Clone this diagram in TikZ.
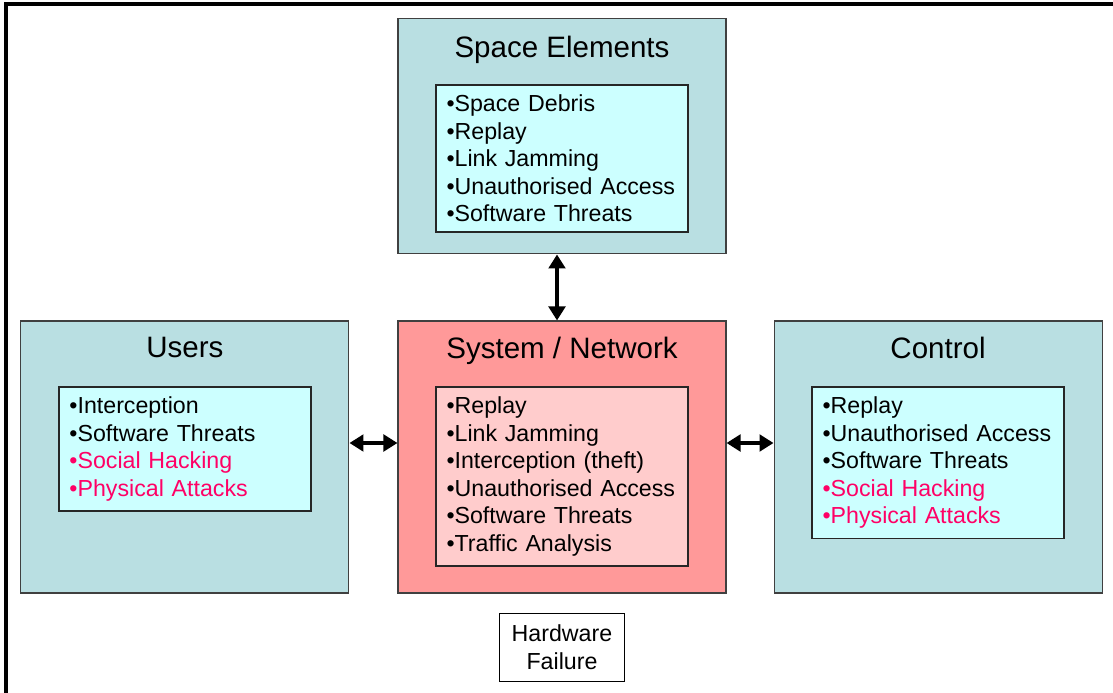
\documentclass[tikz,border=0pt]{standalone}
\usepackage{fontspec}
\setmainfont{Liberation Sans}
\usetikzlibrary{positioning}
\usetikzlibrary{arrows.meta}

\definecolor{boxteal}{RGB}{185,223,226}
\definecolor{listcyan}{RGB}{204,255,255}
\definecolor{netred}{RGB}{255,153,153}
\definecolor{netpink}{RGB}{255,204,204}
\definecolor{hackpink}{RGB}{255,0,102}

\begin{document}
\begin{tikzpicture}[
                          outerbox/.style={rectangle, draw=black!75, line width=0.6pt, fill=boxteal, minimum width=6.56cm, minimum height=5.44cm},
                          redbox/.style={outerbox, fill=netred},
                          titletext/.style={inner sep=0pt, font=\fontsize{16.8}{20}\selectfont},
                          listbox/.style={rectangle, draw=black!85, line width=0.8pt, fill=listcyan, text width=4.62cm, align=left, inner xsep=0.21cm, inner ysep=0.2cm, font=\fontsize{13.2}{15.6}\selectfont},
                          pinklistbox/.style={listbox, fill=netpink},
                          plainbox/.style={rectangle, draw, line width=0.6pt, fill=white, minimum width=2.5cm, minimum height=1.36cm, align=center, font=\fontsize{13.2}{15.6}\selectfont},
                          bigarrow/.style={line width=2.5pt, {Triangle[length=2.8mm, width=3.3mm]}-{Triangle[length=2.8mm, width=3.3mm]}},
                      ]
                      \useasboundingbox (0,0) rectangle (22.26,-13.86);
                      %Frame
                      \draw[line width=2.2pt] (0.12,-13.86) -- (0.12,-0.08) -- (22.26,-0.08);

                      %Nodes
                      \node[redbox]      (system)    at (11.24,-9.14)              {};
                      \node[outerbox, minimum height=4.7cm]    (space)     [above=1.32cm of system]    {};
                      \node[outerbox]    (users)     [left=0.96cm of system]   {};
                      \node[outerbox]    (control)   [right=0.94cm of system]  {};
                      \node[plainbox]    (hardware)  [below=0.38cm of system]  {Hardware\\Failure};

                      %Titles
                      \node[titletext]   (space_title)    [below=0.34cm of space.north]    {Space Elements};
                      \node[titletext]   (users_title)    [below=0.32cm of users.north]    {Users};
                      \node[titletext]   (system_title)   [below=0.32cm of system.north]   {System / Network};
                      \node[titletext]   (control_title)  [below=0.32cm of control.north]  {Control};

                      %Lists
                      \node[listbox]     (space_list)     [below=1.32cm of space.north]
                            {•Space Debris\\•Replay\\•Link Jamming\\•Unauthorised Access\\•Software Threats};
                      \node[listbox]     (users_list)     [below=1.32cm of users.north]
                            {•Interception\\•Software Threats\\{\color{hackpink}•Social Hacking}\\{\color{hackpink}•Physical Attacks}};
                      \node[pinklistbox] (system_list)    [below=1.32cm of system.north]
                            {•Replay\\•Link Jamming\\•Interception (theft)\\•Unauthorised Access\\•Software Threats\\•Traffic Analysis};
                      \node[listbox]     (control_list)   [below=1.32cm of control.north]
                            {•Replay\\•Unauthorised Access\\•Software Threats\\{\color{hackpink}•Social Hacking}\\{\color{hackpink}•Physical Attacks}};

                      %Lines
                      \draw[bigarrow] ([xshift=-0.1cm]space.south) -- ([xshift=-0.1cm]system.north);
                      \draw[bigarrow] ([yshift=0.28cm]users.east) -- ([yshift=0.28cm]system.west);
                      \draw[bigarrow] ([yshift=0.28cm]system.east) -- ([yshift=0.28cm]control.west);
                  \end{tikzpicture}
\end{document}
